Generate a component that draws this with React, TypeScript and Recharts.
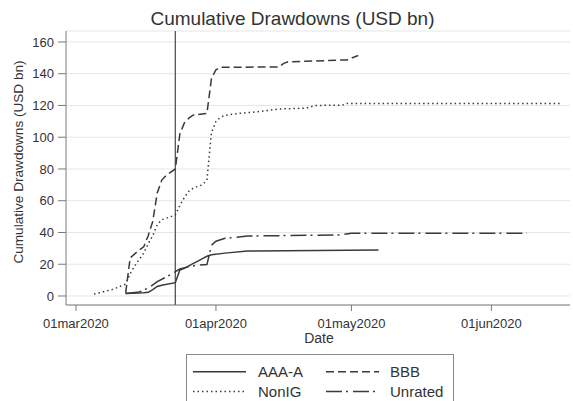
import React from 'react';
import { LineChart, Line, XAxis, YAxis, CartesianGrid, ReferenceLine, Label } from 'recharts';

const chartTitle = 'Cumulative Drawdowns (USD bn)';
const xTitle = 'Date';
const yTitle = 'Cumulative Drawdowns (USD bn)';

// x values are days since 01mar2020
const xTickDays = [0, 31, 61, 92];
const xTickLabels = ['01mar2020', '01apr2020', '01may2020', '01jun2020'];
const yTicks = [0, 20, 40, 60, 80, 100, 120, 140, 160];
const eventDay = 22; // 23mar2020

const aaaDays = [11, 15, 16, 17, 18, 19, 22, 23, 24, 25, 26, 27, 28, 29, 30, 33, 38, 67];
const aaaValues = [1.5, 2, 2.3, 4, 6, 6.8, 8.4, 16.4, 17.4, 19, 20.5, 22, 23.5, 25, 26, 27, 28.3, 29];

const bbbDays = [11, 12, 14, 15, 16, 17, 18, 19, 20, 22, 23, 24, 25, 26, 29, 30, 31, 32, 45, 46, 47, 60, 62.5];
const bbbValues = [2, 24, 29, 31, 38, 47, 65, 73, 76, 80, 102, 109, 112, 114, 115, 137, 142.5, 144, 144.3, 146.5, 147.5, 148.7, 151.5];

const nonigDays = [4, 8, 11, 12, 13, 15, 16, 17, 18, 19, 20, 22, 23, 24, 25, 26, 28, 29, 30, 31, 32, 33, 36, 40, 45, 51, 53, 59, 60, 107.5];
const nonigValues = [1.2, 4, 7.5, 14, 19, 27, 33, 38, 45, 48, 49, 51, 57, 62, 66, 68, 70, 73, 103, 110, 112.5, 113.8, 115, 116, 117.8, 118.3, 120, 120.2, 121.3, 121.3];

const unratedDays = [11, 14, 16, 18, 20, 22, 23, 25, 27, 29, 30, 31, 33, 38, 58, 61, 99.8];
const unratedValues = [1.5, 2.5, 5, 9, 12, 15.3, 17, 18.5, 19.5, 19.8, 32, 34.5, 36.3, 37.8, 38.4, 39.5, 39.5];

const seriesNames = ['AAA-A', 'BBB', 'NonIG', 'Unrated'];
const seriesDash = ['', '8 4', '1.5 3', '16 4 2 5'];

const toRows = (days: number[], vals: number[]) => days.map((d, i) => ({ day: d, v: vals[i] }));
const seriesData = [
  toRows(aaaDays, aaaValues),
  toRows(bbbDays, bbbValues),
  toRows(nonigDays, nonigValues),
  toRows(unratedDays, unratedValues),
];

const FONT = '"Liberation Sans", Arial, Helvetica, sans-serif';
const LINE = '#3a3a3a';
const AXIS = '#7a7a7a';
const TXT = '#333333';

const YTitle = () => (
  <text x={18} y={162} transform="rotate(-90, 18, 162)" textAnchor="middle" dominantBaseline="central"
    fontSize={13.6} fill={TXT} fontFamily={FONT}>{yTitle}</text>
);
const XTitle = () => (
  <text x={319} y={343} textAnchor="middle" fontSize={14} fill={TXT} fontFamily={FONT}>{xTitle}</text>
);

const Legend = () => {
  const cols = [193, 326];
  const textX = [258, 390];
  const rows = [371.7, 391.5];
  return (
    <svg width={573} height={401} style={{ position: 'absolute', left: 0, top: 0, pointerEvents: 'none' }}>
      <rect x={186.5} y={354.5} width={267} height={60} fill="none" stroke="#8a8a8a" strokeWidth={1} />
      {seriesNames.map((n, i) => {
        const c = i % 2;
        const r = Math.floor(i / 2);
        return (
          <g key={n}>
            <line x1={cols[c]} x2={cols[c] + 53} y1={rows[r]} y2={rows[r]} stroke={LINE} strokeWidth={1.5}
              strokeDasharray={seriesDash[i] || undefined} />
            <text x={textX[c]} y={rows[r]} dominantBaseline="central" fontSize={15} fill={TXT} fontFamily={FONT}>{n}</text>
          </g>
        );
      })}
    </svg>
  );
};

export default function App() {
  return (
    <div style={{ position: 'absolute', left: 0, top: 0, width: 573, height: 401, background: '#fff', fontFamily: FONT }}>
      <div style={{ position: 'absolute', left: 0, top: 9, width: 585, textAlign: 'center', fontSize: 19, lineHeight: '19px', color: TXT }}>
        {chartTitle}
      </div>
      <div style={{ position: 'absolute', left: 0, top: 0 }}>
        <LineChart width={573} height={401} margin={{ top: 31, right: 3, bottom: 0, left: 0 }}>
          <CartesianGrid vertical={false} stroke="#e6e6e6" strokeWidth={1} />
          <XAxis dataKey="day" type="number" domain={[-2.21, 109.4]} allowDataOverflow ticks={xTickDays}
            tickFormatter={(d: number) => xTickLabels[xTickDays.indexOf(d)] ?? ''}
            height={96} stroke={AXIS} tickSize={6} tickMargin={8}
            tick={{ fontSize: 13, fill: TXT, fontFamily: FONT }} interval={0}>
            <Label content={<XTitle />} />
          </XAxis>
          <YAxis type="number" domain={[-5.67, 166.9]} allowDataOverflow ticks={yTicks} width={66}
            stroke={AXIS} tickSize={8} tickMargin={4} interval={0}
            tick={{ fontSize: 13, fill: TXT, fontFamily: FONT }}>
            <Label content={<YTitle />} />
          </YAxis>
          <ReferenceLine x={eventDay} stroke="#555" strokeWidth={1.3} />
          {seriesData.map((d, i) => (
            <Line key={seriesNames[i]} data={d} dataKey="v" name={seriesNames[i]} type="linear" dot={false}
              stroke={LINE} strokeWidth={1.5} strokeDasharray={seriesDash[i] || undefined}
              isAnimationActive={false} activeDot={false} />
          ))}
        </LineChart>
      </div>
      <Legend />
    </div>
  );
}
